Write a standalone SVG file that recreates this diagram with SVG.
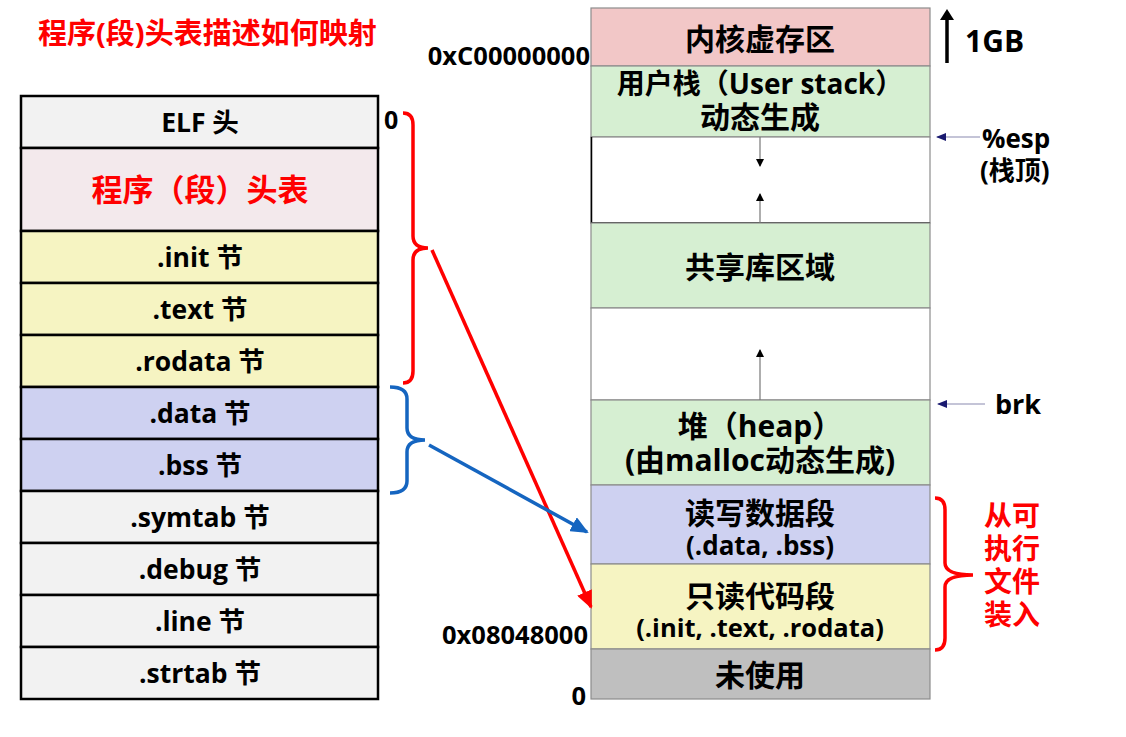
<svg xmlns="http://www.w3.org/2000/svg" width="1126" height="737" viewBox="0 0 1126 737">
<style>
text{font-family:"Open Sans","Noto Sans CJK SC",sans-serif;font-weight:bold;fill:#000;}
.c{text-anchor:middle;}
.r{text-anchor:end;}
.red{fill:#FF0000;}
.lt{font-size:26.5px;}
.mt{font-size:30px;}
.st{font-size:25.5px;}
.cell{stroke:#000;stroke-width:2.5;}
.mem{stroke:#8C8C8C;stroke-width:1.2;}
.g{fill:#F2F2F2;}
.y{fill:#F6F4C2;}
.b{fill:#CED1F1;}
.gr{fill:#D6EFD2;}
.in{stroke:#777;stroke-width:1.2;fill:none;}
</style>
<defs>
<marker id="ah" markerWidth="8" markerHeight="8" refX="7" refY="4" orient="auto" markerUnits="userSpaceOnUse"><path d="M0,0 L8,4 L0,8 Z" fill="#000"/></marker>
<marker id="ahn" markerWidth="10" markerHeight="8" refX="9" refY="4" orient="auto" markerUnits="userSpaceOnUse"><path d="M0,0 L10,4 L0,8 Z" fill="#1A1A70"/></marker>
<marker id="ahr" markerWidth="18" markerHeight="16" refX="16" refY="8" orient="auto" markerUnits="userSpaceOnUse"><path d="M0,0 L18,8 L0,16 Z" fill="#FF0000"/></marker>
<marker id="ahb" markerWidth="18" markerHeight="16" refX="16" refY="8" orient="auto" markerUnits="userSpaceOnUse"><path d="M0,0 L18,8 L0,16 Z" fill="#1565C0"/></marker>
</defs>
<rect width="1126" height="737" fill="#fff"/>

<text x="38" y="44" class="red" font-size="29">程序(段)头表描述如何映射</text>

<!-- Left ELF table -->
<g id="elf-header"><rect x="21" y="96" width="357" height="52" class="cell g"/><text x="200" y="132" class="c lt">ELF 头</text></g>
<g id="phdr-table"><rect x="21" y="148" width="357" height="83" class="cell" fill="#F3E9EC"/><text x="200" y="201" class="c red" font-size="31">程序（段）头表</text></g>
<g id="init"><rect x="21" y="231" width="357" height="52" class="cell y"/><text x="200" y="267" class="c lt">.init 节</text></g>
<g id="text"><rect x="21" y="283" width="357" height="52" class="cell y"/><text x="200" y="319" class="c lt">.text 节</text></g>
<g id="rodata"><rect x="21" y="335" width="357" height="52" class="cell y"/><text x="200" y="371" class="c lt">.rodata 节</text></g>
<g id="data"><rect x="21" y="387" width="357" height="52" class="cell b"/><text x="200" y="423" class="c lt">.data 节</text></g>
<g id="bss"><rect x="21" y="439" width="357" height="52" class="cell b"/><text x="200" y="475" class="c lt">.bss 节</text></g>
<g id="symtab"><rect x="21" y="491" width="357" height="52" class="cell g"/><text x="200" y="527" class="c lt">.symtab 节</text></g>
<g id="debug"><rect x="21" y="543" width="357" height="52" class="cell g"/><text x="200" y="579" class="c lt">.debug 节</text></g>
<g id="line"><rect x="21" y="595" width="357" height="52" class="cell g"/><text x="200" y="631" class="c lt">.line 节</text></g>
<g id="strtab"><rect x="21" y="647" width="357" height="52" class="cell g"/><text x="200" y="683" class="c lt">.strtab 节</text></g>
<text x="384" y="129" font-size="25">0</text>

<!-- Right memory layout -->
<g id="kernel"><rect x="591" y="8" width="339" height="58" class="mem" fill="#F2C7C7"/><text x="760" y="50" class="c mt">内核虚存区</text></g>
<g id="user-stack"><rect x="591" y="66" width="339" height="71" class="mem gr"/><text class="c"><tspan x="760" y="94" font-size="28">用户栈（User stack）</tspan><tspan x="760" y="128" font-size="30">动态生成</tspan></text></g>
<g id="gap1"><rect x="591" y="137" width="339" height="86" class="mem" fill="#fff"/><path d="M591.5,137 V223 H930" stroke="#000" stroke-width="1.5" fill="none"/></g>
<g id="shared-lib"><rect x="591" y="223" width="339" height="85" class="mem gr"/><text x="760" y="278" class="c mt">共享库区域</text></g>
<g id="gap2"><rect x="591" y="308" width="339" height="92" class="mem" fill="#fff"/></g>
<g id="heap"><rect x="591" y="400" width="339" height="85" class="mem gr"/><text class="c mt"><tspan x="760" y="437">堆（heap）</tspan><tspan x="760" y="471">(由malloc动态生成)</tspan></text></g>
<g id="rw-seg"><rect x="591" y="485" width="339" height="79" class="mem b"/><text class="c"><tspan x="760" y="524" font-size="30">读写数据段</tspan><tspan x="760" y="555" font-size="26">(.data, .bss)</tspan></text></g>
<g id="ro-seg"><rect x="591" y="564" width="339" height="85" class="mem y"/><text class="c"><tspan x="760" y="607" font-size="30">只读代码段</tspan><tspan x="760" y="637" font-size="25.5">(.init, .text, .rodata)</tspan></text></g>
<g id="unused"><rect x="591" y="649" width="339" height="50" class="mem" fill="#BFBFBF"/><text x="760" y="686" class="c mt">未使用</text></g>

<text x="590" y="65" class="r st">0xC00000000</text>
<text x="588" y="644" class="r st">0x08048000</text>
<text x="586" y="705" class="r st">0</text>

<g id="size-1gb"><line x1="947" y1="63" x2="947" y2="18" stroke="#000" stroke-width="3.5"/><path d="M940,20 L947,9 L954,20 Z" fill="#000"/><text x="965" y="52" font-size="30">1GB</text></g>
<g id="esp"><text font-size="26"><tspan x="982" y="148">%esp</tspan><tspan x="980" y="180">(栈顶)</tspan></text></g>
<g id="brk"><text x="995" y="414" font-size="27">brk</text></g>
<g id="loaded"><text class="red" font-size="28"><tspan x="984" y="526">从可</tspan><tspan x="984" y="559">执行</tspan><tspan x="984" y="592">文件</tspan><tspan x="984" y="625">装入</tspan></text></g>

<g id="connectors">
<line x1="760" y1="137" x2="760" y2="166" class="in" marker-end="url(#ah)"/>
<line x1="760" y1="223" x2="760" y2="194" class="in" marker-end="url(#ah)"/>
<line x1="760" y1="400" x2="760" y2="350" class="in" marker-end="url(#ah)"/>
<line x1="980" y1="137" x2="937" y2="137" stroke="#8A8AB0" stroke-width="1.2" marker-end="url(#ahn)"/>
<line x1="985" y1="404" x2="938" y2="404" stroke="#8A8AB0" stroke-width="1.2" marker-end="url(#ahn)"/>
<path d="M403,113 Q413,113 413,125 V236 Q413,248 428,248 Q413,248 413,260 V371 Q413,383 403,383" stroke="#FF0000" stroke-width="3.5" fill="none"/>
<path d="M390,387 Q407,387 407,399 V428 Q407,440 425,440 Q407,440 407,452 V481 Q407,493 390,493" stroke="#1565C0" stroke-width="3.5" fill="none"/>
<path d="M935,498 Q945,498 945,510 V563 Q945,575 973,575 Q945,575 945,587 V638 Q945,650 935,650" stroke="#FF0000" stroke-width="3.5" fill="none"/>
<line x1="432" y1="250" x2="591" y2="607" stroke="#FF0000" stroke-width="3.5" marker-end="url(#ahr)"/>
<line x1="429" y1="445" x2="587" y2="532" stroke="#1565C0" stroke-width="3.5" marker-end="url(#ahb)"/>
</g>
</svg>
